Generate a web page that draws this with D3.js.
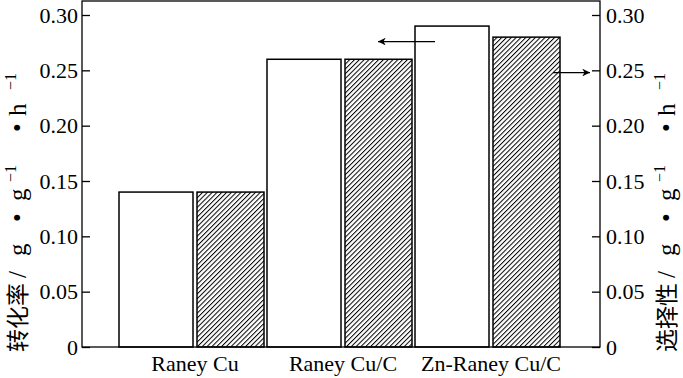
<!DOCTYPE html>
<html>
<head>
<meta charset="utf-8">
<script src="https://cdn.jsdelivr.net/npm/d3@7"></script>
<style>
  body { margin: 0; background: #fff; }
  svg text { font-family: "Liberation Serif", "Times New Roman", serif; fill: #000; }
</style>
</head>
<body>
<div id="container"></div>
<script>
let w = 683;
let h = 378;

// data
let catalysts = ["Raney Cu", "Raney Cu/C", "Zn-Raney Cu/C"];
let conversion = [0.14, 0.26, 0.29];   // 转化率 (left axis, white)
let selectivity = [0.14, 0.26, 0.28];  // 选择性 (right axis, hatched)
let tickValues = [0, 0.05, 0.10, 0.15, 0.20, 0.25, 0.30];

let plotL = 82, plotR = 600, plotT = 1, plotB = 347;

let viz = d3.select("#container").append("svg")
    .attr("width", w)
    .attr("height", h)
    .style("background-color", "white");

let defs = viz.append("defs");
let pat = defs.append("pattern")
    .attr("id", "hatch")
    .attr("patternUnits", "userSpaceOnUse")
    .attr("width", 3.4)
    .attr("height", 3.4)
    .attr("patternTransform", "rotate(45)");
pat.append("rect").attr("width", 3.4).attr("height", 3.4).attr("fill", "white");
pat.append("line")
    .attr("x1", 0).attr("y1", 0).attr("x2", 0).attr("y2", 3.4)
    .attr("stroke", "black").attr("stroke-width", 2);

// scales
let yScale = d3.scaleLinear().domain([0, 0.30]).range([plotB, 15]);
let yScaleR = d3.scaleLinear().domain([0, 0.30]).range([plotB, 15]);
let xScale = d3.scaleBand().domain(catalysts).range([119, 563]).paddingInner(0.0);

let barW = 74;
let gap = 4;
let hatchW = 67;

// bars
viz.selectAll(".conv").data(catalysts).enter()
  .append("rect")
    .attr("class", "conv")
    .attr("x", function(d){ return xScale(d); })
    .attr("y", function(d, i){ return yScale(conversion[i]); })
    .attr("width", barW)
    .attr("height", function(d, i){ return plotB - yScale(conversion[i]); })
    .attr("fill", "white")
    .attr("stroke", "black")
    .attr("stroke-width", 1.5);

viz.selectAll(".sel").data(catalysts).enter()
  .append("rect")
    .attr("class", "sel")
    .attr("x", function(d){ return xScale(d) + barW + gap; })
    .attr("y", function(d, i){ return yScaleR(selectivity[i]); })
    .attr("width", hatchW)
    .attr("height", function(d, i){ return plotB - yScaleR(selectivity[i]); })
    .attr("fill", "url(#hatch)")
    .attr("stroke", "black")
    .attr("stroke-width", 1.5);

// frame
viz.append("rect")
    .attr("x", plotL).attr("y", plotT)
    .attr("width", plotR - plotL).attr("height", plotB - plotT)
    .attr("fill", "none")
    .attr("stroke", "black")
    .attr("stroke-width", 1.3);

let fmt = function(d){ return d === 0 ? "0" : d3.format(".2f")(d); };

// left axis
let gl = viz.append("g").attr("transform", "translate(" + plotL + ",0)")
    .call(d3.axisLeft(yScale).tickValues(tickValues).tickSize(-8).tickPadding(4).tickFormat(fmt))
    .attr("font-family", "Liberation Serif")
    .attr("font-size", 22);
gl.select(".domain").remove();
gl.selectAll("line").attr("stroke-width", 1.3);

// right axis
let gr = viz.append("g").attr("transform", "translate(" + plotR + ",0)")
    .call(d3.axisRight(yScaleR).tickValues(tickValues).tickSize(-8).tickPadding(6).tickFormat(fmt))
    .attr("font-family", "Liberation Serif")
    .attr("font-size", 22);
gr.select(".domain").remove();
gr.selectAll("line").attr("stroke-width", 1.3);

// category labels
viz.selectAll(".cat").data(catalysts).enter()
  .append("text")
    .attr("class", "cat")
    .attr("x", function(d){ return xScale(d) + barW + gap / 2; })
    .attr("y", 371)
    .attr("text-anchor", "middle")
    .style("font-size", "22px")
    .text(function(d){ return d; });

// axis titles (spaced out like the original typesetting)
let unitParts = [
  {t: "/", x: 74, sup: false},
  {t: "g", x: 96, sup: false},
  {t: "•", x: 130, sup: false},
  {t: "g", x: 151, sup: false},
  {t: "−1", x: 170, sup: true},
  {t: "•", x: 220, sup: false},
  {t: "h", x: 236, sup: false},
  {t: "−1", x: 262, sup: true}
];
function title(x, label) {
  let t = viz.append("text")
      .attr("transform", "translate(" + x + ",352) rotate(-90)")
      .style("font-size", "25px");
  t.append("tspan").attr("x", 0)
      .style("font-family", "'Noto Sans CJK SC', sans-serif")
      .style("font-size", "23px")
      .text(label);
  unitParts.forEach(function(p){
    t.append("tspan")
      .attr("x", p.x)
      .attr("y", p.sup ? -10 : 0)
      .style("font-size", p.sup ? "16px" : "25px")
      .text(p.t);
  });
}
title(26, "转化率");
title(675, "选择性");

// arrows
defs.append("marker")
    .attr("id", "arrow")
    .attr("viewBox", "0 0 10 10")
    .attr("refX", 10).attr("refY", 5)
    .attr("markerWidth", 9).attr("markerHeight", 6)
    .attr("orient", "auto")
  .append("path")
    .attr("d", "M0,0 L10,5 L0,10 L3,5 Z")
    .attr("fill", "black");

viz.append("line")
    .attr("x1", 435).attr("y1", yScale(0.276))
    .attr("x2", 378).attr("y2", yScale(0.276))
    .attr("stroke", "black").attr("stroke-width", 1.3)
    .attr("marker-end", "url(#arrow)");

viz.append("line")
    .attr("x1", 553).attr("y1", yScaleR(0.248))
    .attr("x2", 590).attr("y2", yScaleR(0.248))
    .attr("stroke", "black").attr("stroke-width", 1.3)
    .attr("marker-end", "url(#arrow)");
</script>
</body>
</html>
